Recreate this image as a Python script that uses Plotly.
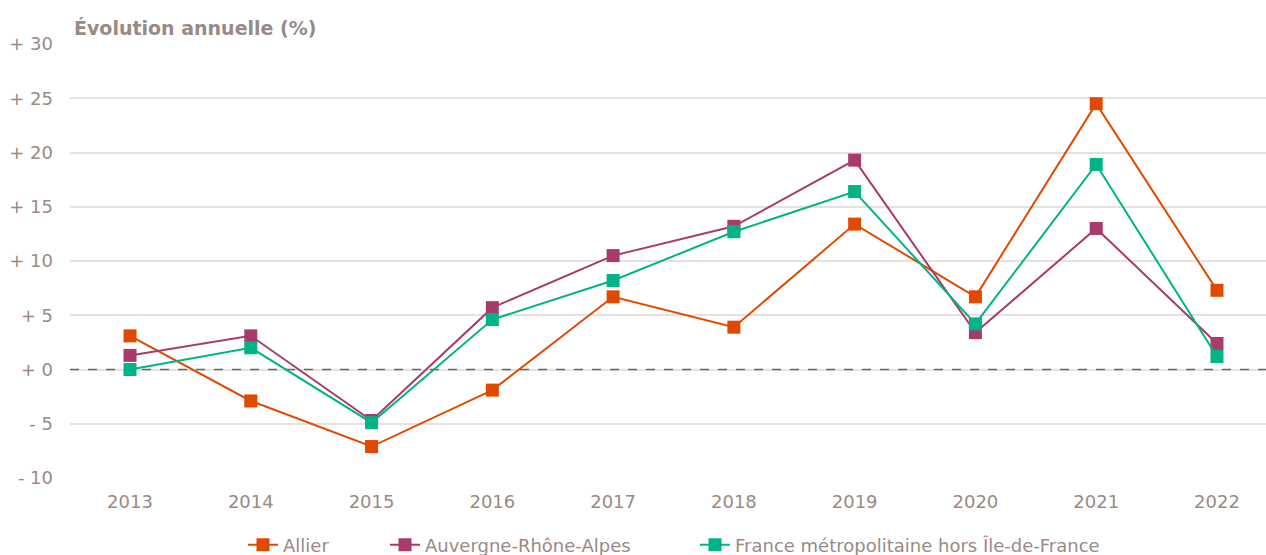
import plotly.graph_objects as go

years = [2013, 2014, 2015, 2016, 2017, 2018, 2019, 2020, 2021, 2022]
allier = [3.1, -2.9, -7.1, -1.9, 6.7, 3.9, 13.4, 6.7, 24.5, 7.3]
ara = [1.3, 3.1, -4.7, 5.7, 10.5, 13.2, 19.3, 3.4, 13.0, 2.4]
france = [0.0, 2.0, -4.9, 4.6, 8.2, 12.7, 16.4, 4.2, 18.9, 1.2]

series_names = ["Allier", "Auvergne-Rhône-Alpes", "France métropolitaine hors Île-de-France"]
series_colors = ["#E04A00", "#A83B6B", "#00B388"]
series_values = [allier, ara, france]

ytick_vals = [-10, -5, 0, 5, 10, 15, 20, 25, 30]
ytick_text = ["- 10", "- 5", "+ 0", "+ 5", "+ 10", "+ 15", "+ 20", "+ 25", "+ 30"]

x_range = [2012.503, 2022.406]
y_range = [-10, 30]

text_color = "#9A8A84"
font_family = "DejaVu Sans, sans-serif"

legend_ids = ["legend", "legend2", "legend3"]
legend_x_px = [243, 385, 695]

fig = go.Figure()
# dashed reference line at zero (drawn below the series)
fig.add_trace(go.Scatter(x=x_range, y=[0, 0], mode="lines", showlegend=False, hoverinfo="skip",
                         line=dict(color="#6E6460", width=1.5, dash="dash")))
for name, color, vals, lg in zip(series_names, series_colors, series_values, legend_ids):
    fig.add_trace(go.Scatter(
        x=years, y=vals, name=name, mode="lines+markers", legend=lg,
        line=dict(color=color, width=2),
        marker=dict(symbol="square", size=13, color=color),
    ))

legend_common = dict(orientation="h", xanchor="left", xref="container",
                     y=0.018, yanchor="middle", yref="container",
                     font=dict(size=18, color=text_color), bgcolor="rgba(0,0,0,0)")

fig.update_layout(
    width=1266, height=555,
    margin=dict(l=70, r=0, t=44, b=77, autoexpand=False),
    paper_bgcolor="white", plot_bgcolor="white",
    font=dict(family=font_family, size=18, color=text_color),
    showlegend=True,
    annotations=[dict(text="<b>Évolution annuelle (%)</b>", xref="paper", yref="paper",
                      x=0.002, y=1.008, xanchor="left", yanchor="bottom", showarrow=False,
                      font=dict(size=19, color=text_color, family=font_family))],
)
for lg, px in zip(legend_ids, legend_x_px):
    fig.update_layout({lg: dict(legend_common, x=px / 1266)})

fig.update_xaxes(range=x_range, tickvals=years, ticktext=[str(y) for y in years],
                 showgrid=False, zeroline=False, showline=False, ticks="", automargin=False,
                 ticklabelstandoff=11, tickfont=dict(size=18, color=text_color))
fig.update_yaxes(range=y_range, tickvals=ytick_vals, ticktext=ytick_text,
                 showgrid=True, gridcolor="#E6E0E0", gridwidth=1.5, zeroline=False,
                 showline=False, ticks="", ticklabelstandoff=16, automargin=False,
                 tickfont=dict(size=18, color=text_color))

fig.write_html("out.html", config={"displayModeBar": False},
               post_script="document.body.style.margin='0';")
